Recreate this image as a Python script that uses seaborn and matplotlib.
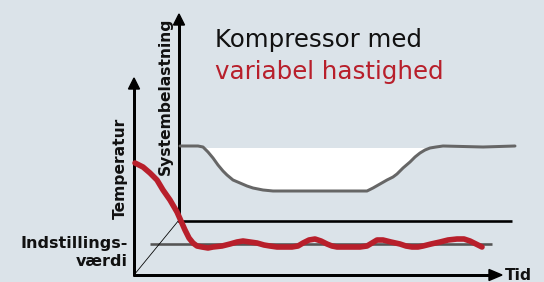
import matplotlib
matplotlib.use("Agg")
import matplotlib.pyplot as plt
import seaborn as sns
import pandas as pd
import numpy as np
from matplotlib.patches import Polygon

# ---- data (pixel-space diagram units) ----
temp_x = [135, 143, 150, 157, 163, 170, 177, 181, 185, 189, 193, 197, 202, 208, 213, 222, 230, 237, 243, 250, 257, 264, 270,
          277, 285, 292, 298, 303, 309, 315, 321, 327, 332, 337, 345, 353, 360, 367, 372, 377, 383, 391, 400, 406, 412,
          418, 423, 431, 440, 448, 457, 464, 470, 476, 482]
temp_y = [163, 167, 173, 180, 190, 200, 212, 221, 230, 238, 243, 246, 247, 248, 247, 246, 244, 242, 241, 242, 243, 245, 246,
          247, 247, 247, 246, 243, 240, 239, 241, 244, 246, 247, 247, 247, 247, 246, 243, 240, 240, 242, 244, 246, 247,
          247, 246, 244, 242, 240, 239, 239, 241, 244, 247]

load_x = [180, 198, 203, 208, 213, 218, 223, 227, 233, 240, 247, 253, 263, 273, 367, 373, 380, 387, 393, 397, 403, 410,
          415, 420, 425, 430, 436, 443, 483, 515]
load_y = [146, 146, 147, 152, 158, 165, 171, 175, 180, 183, 186, 188, 190, 191, 191, 188, 184, 180, 177, 174, 168, 162,
          157, 153, 150, 148, 147, 146, 147, 146]

title_line1 = "Kompressor med"
title_line2 = "variabel hastighed"
label_temp = "Temperatur"
label_load = "Systembelastning"
label_set1 = "Indstillings-"
label_set2 = "værdi"
label_time = "Tid"

BG = "#dbe3e9"
RED = "#b81f2b"
GRAY = "#666666"

sns.set_theme(style="white")
plt.rcParams["font.family"] = ["DejaVu Sans"]

fig = plt.figure(figsize=(5.44, 2.82), dpi=100, facecolor=BG)
ax = fig.add_axes([0, 0, 1, 1])
ax.set_facecolor(BG)

PX = 0.72  # points per pixel

# white fill under the load ceiling
lx = np.array(load_x, dtype=float)
ly = np.array(load_y, dtype=float)
ax.fill_between(lx, 147.5, ly, where=ly >= 147.5, color="white", lw=0, zorder=1, interpolate=True)

# axes lines
k = dict(color="black", solid_capstyle="butt", zorder=3)
ax.plot([134, 134], [276, 88], lw=3 * PX, **k)         # temperature axis
ax.plot([179, 179], [222, 24], lw=3 * PX, **k)         # load axis
ax.plot([133, 490], [275, 275], lw=3 * PX, **k)        # time axis
ax.plot([178, 512], [220.5, 220.5], lw=2.6 * PX, **k)  # inner baseline
ax.plot([134, 179], [275, 220], color="black", lw=0.8 * PX, zorder=3)
ax.add_patch(Polygon([[128.5, 89], [139.5, 89], [134, 78]], closed=True, color="black", zorder=3))
ax.add_patch(Polygon([[173.5, 25], [184.5, 25], [179, 14]], closed=True, color="black", zorder=3))
ax.add_patch(Polygon([[489, 269.5], [489, 280.5], [502, 275]], closed=True, color="black", zorder=3))

# setpoint line
ax.plot([150, 492], [244.3, 244.3], color="#555555", lw=2.6 * PX, solid_capstyle="butt", zorder=2)

df_load = pd.DataFrame({"x": load_x, "y": load_y})
sns.lineplot(data=df_load, x="x", y="y", sort=False, estimator=None, ax=ax,
             color=GRAY, lw=3 * PX, zorder=4)
df_temp = pd.DataFrame({"x": temp_x, "y": temp_y})
sns.lineplot(data=df_temp, x="x", y="y", sort=False, estimator=None, ax=ax,
             color=RED, lw=5.6 * PX, zorder=5, solid_joinstyle="round")
ax.set_xlim(0, 544)
ax.set_ylim(282, 0)
ax.axis("off")

# texts
ax.text(215, 47, title_line1, fontsize=24.5 * PX, color="#111111", ha="left", va="baseline")
ax.text(215, 79, title_line2, fontsize=24.5 * PX, color=RED, ha="left", va="baseline")
ax.text(120, 168, label_temp, fontsize=15.5 * PX, fontweight="bold", rotation=90,
        ha="center", va="center", color="#111111")
ax.text(165, 96, label_load, fontsize=15.5 * PX, fontweight="bold", rotation=90,
        ha="center", va="center", color="#111111")
ax.text(128, 248, label_set1, fontsize=16 * PX, fontweight="bold", ha="right", va="baseline", color="#111111")
ax.text(128, 266, label_set2, fontsize=16 * PX, fontweight="bold", ha="right", va="baseline", color="#111111")
ax.text(505, 276, label_time, fontsize=15.5 * PX, fontweight="bold", ha="left", va="center", color="#111111")

fig.savefig("out.png", dpi=100, facecolor=BG)
